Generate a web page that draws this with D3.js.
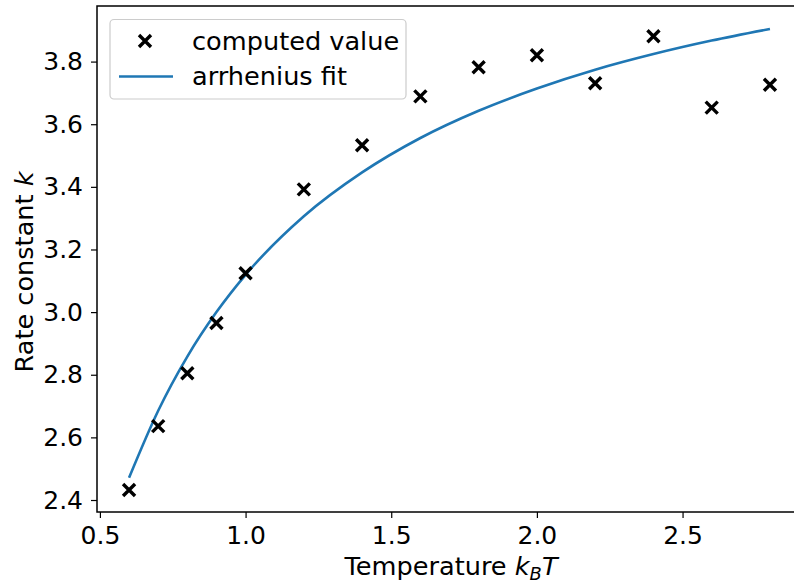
<!DOCTYPE html>
<html>
<head>
<meta charset="utf-8">
<script src="https://cdn.jsdelivr.net/npm/d3@7"></script>
<style>
    body { margin: 0; background: #fff; }
    svg { display: block; font-family: 'DejaVu Sans', sans-serif; }
</style>
</head>
<body>
<div class="chart-container"></div>
<script>
// values
const temperatures = [0.6, 0.7, 0.8, 0.9, 1.0, 1.2, 1.4, 1.6, 1.8, 2.0, 2.2, 2.4, 2.6, 2.8];
const computedValues = [2.432, 2.636, 2.805, 2.965, 3.124, 3.392, 3.533, 3.689, 3.782, 3.820, 3.731, 3.881, 3.653, 3.726];
const fitTemperatures = [0.6, 0.7, 0.8, 0.9, 1.0, 1.2, 1.4, 1.6, 1.8, 2.0, 2.2, 2.4, 2.6, 2.8];
const fitValues = [2.471, 2.685, 2.858, 3.000, 3.119, 3.306, 3.446, 3.556, 3.643, 3.714, 3.774, 3.824, 3.867, 3.904];
const xTicks = [0.5, 1.0, 1.5, 2.0, 2.5];
const yTicks = [2.4, 2.6, 2.8, 3.0, 3.2, 3.4, 3.6, 3.8];
const legendLabels = ['computed value', 'arrhenius fit'];

const width = 794;
const height = 585;
const margin = { top: 6, right: -8, bottom: 73, left: 97 };
const fontSize = 25;
const labelSize = 25.6;

const svg = d3.select('.chart-container').append('svg')
    .attr('width', width)
    .attr('height', height);

const x = d3.scaleLinear()
    .domain([0.49, 2.91])
    .range([margin.left, width - margin.right]);
const y = d3.scaleLinear()
    .domain([2.3617, 3.9775])
    .range([height - margin.bottom, margin.top]);

const plotBottom = height - margin.bottom;

// x axis
const xAxis = svg.append('g')
    .attr('transform', 'translate(0,' + plotBottom + ')')
    .call(d3.axisBottom(x).tickValues(xTicks).tickFormat(d3.format('.1f')).tickSizeOuter(0).tickSize(6).tickPadding(8));
xAxis.selectAll('text').attr('font-size', fontSize).attr('fill', '#000').attr('font-family', 'DejaVu Sans');

// y axis
const yAxis = svg.append('g')
    .attr('transform', 'translate(' + margin.left + ',0)')
    .call(d3.axisLeft(y).tickValues(yTicks).tickFormat(d3.format('.1f')).tickSizeOuter(0).tickSize(6).tickPadding(8));
yAxis.selectAll('text').attr('font-size', fontSize).attr('fill', '#000').attr('font-family', 'DejaVu Sans');

[xAxis, yAxis].forEach((axis) => {
    axis.select('.domain').remove();
    axis.selectAll('.tick line').attr('stroke', '#000').attr('stroke-width', 1.2);
});

// frame
svg.append('rect')
    .attr('x', margin.left)
    .attr('y', margin.top)
    .attr('width', x.range()[1] - margin.left)
    .attr('height', plotBottom - margin.top)
    .attr('fill', 'none')
    .attr('stroke', '#000')
    .attr('stroke-width', 1.5);

// fit line
const line = d3.line()
    .x((d, i) => x(fitTemperatures[i]))
    .y((d) => y(d))
    .curve(d3.curveMonotoneX);

svg.append('path')
    .datum(fitValues)
    .attr('d', line)
    .attr('fill', 'none')
    .attr('stroke', '#1f77b4')
    .attr('stroke-width', 2.6);

// x markers
const r = 6;
const markerPath = 'M' + (-r) + ',' + (-r) + 'L' + r + ',' + r + 'M' + (-r) + ',' + r + 'L' + r + ',' + (-r);

svg.append('g').selectAll('path')
    .data(computedValues)
    .enter()
    .append('path')
    .attr('transform', (d, i) => 'translate(' + x(temperatures[i]) + ',' + y(d) + ')')
    .attr('d', markerPath)
    .attr('stroke', '#000')
    .attr('stroke-width', 3.4)
    .attr('fill', 'none');

// legend
const legend = svg.append('g');
legend.append('rect')
    .attr('x', 110)
    .attr('y', 19.5)
    .attr('width', 296)
    .attr('height', 79.5)
    .attr('rx', 4)
    .attr('fill', '#fff')
    .attr('fill-opacity', 0.8)
    .attr('stroke', '#ccc')
    .attr('stroke-width', 1.2);

legend.append('path')
    .attr('transform', 'translate(145,41)')
    .attr('d', markerPath)
    .attr('stroke', '#000')
    .attr('stroke-width', 3.4);

legend.append('line')
    .attr('x1', 119)
    .attr('x2', 173)
    .attr('y1', 76.5)
    .attr('y2', 76.5)
    .attr('stroke', '#1f77b4')
    .attr('stroke-width', 2.6);

legend.selectAll('text.legend-label')
    .data(legendLabels)
    .enter()
    .append('text')
    .attr('class', 'legend-label')
    .attr('x', 192)
    .attr('y', (d, i) => 49.5 + i * 35.5)
    .attr('font-size', labelSize)
    .attr('fill', '#000')
    .text((d) => d);

// axis labels
const xLabel = svg.append('text')
    .attr('x', 451)
    .attr('y', 575)
    .attr('text-anchor', 'middle')
    .attr('font-size', labelSize)
    .attr('fill', '#000');
xLabel.append('tspan').text('Temperature ');
xLabel.append('tspan').attr('font-style', 'italic').text('k');
xLabel.append('tspan').attr('font-style', 'italic').attr('font-size', labelSize * 0.7).attr('dy', 5).text('B');
xLabel.append('tspan').attr('font-style', 'italic').attr('dy', -5).text('T');

const yLabel = svg.append('text')
    .attr('transform', 'translate(33,' + 272 + ') rotate(-90)')
    .attr('text-anchor', 'middle')
    .attr('font-size', labelSize)
    .attr('fill', '#000');
yLabel.append('tspan').text('Rate constant ');
yLabel.append('tspan').attr('font-style', 'italic').text('k');
</script>
</body>
</html>
